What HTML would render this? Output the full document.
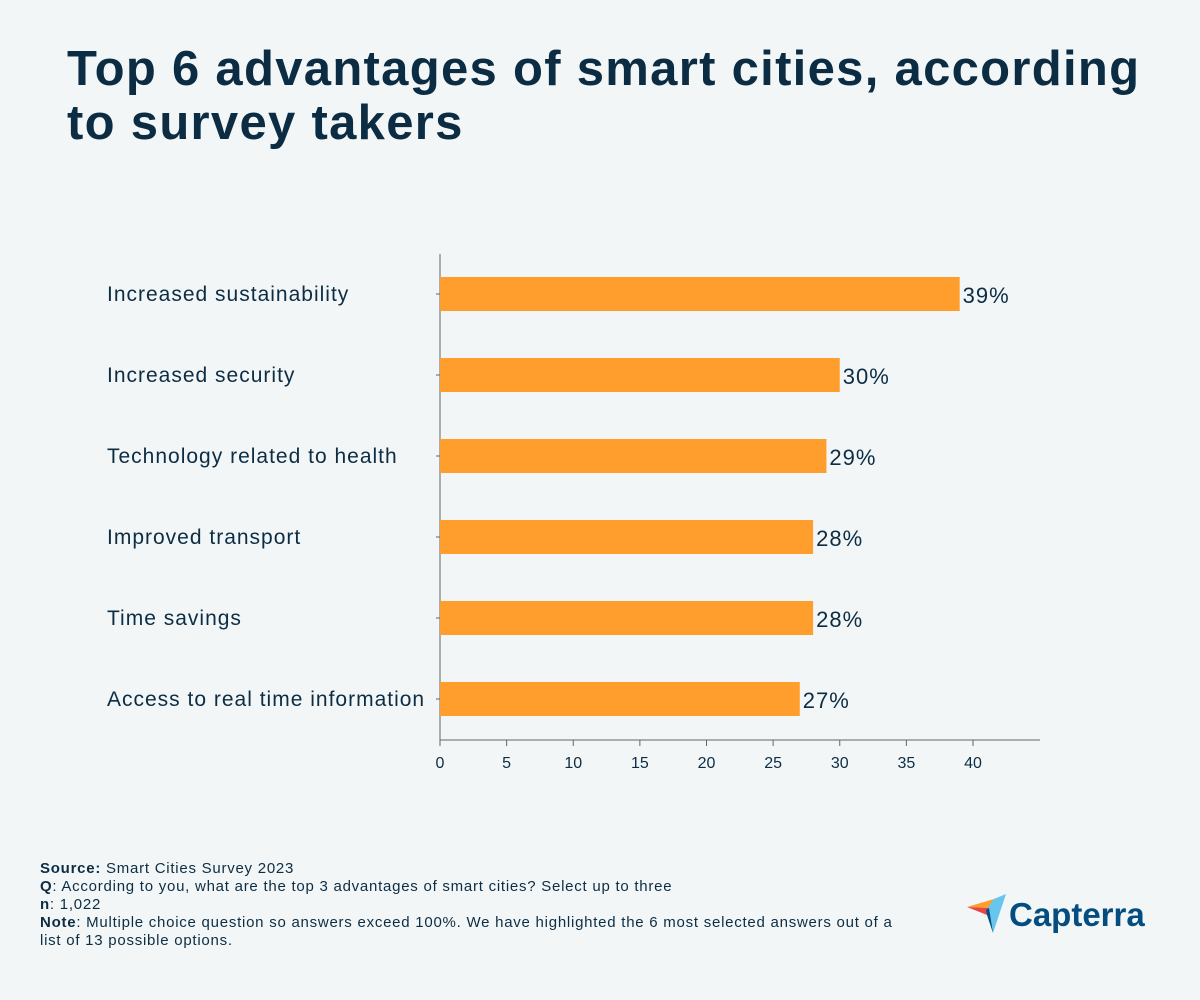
<!DOCTYPE html>
<html><head><meta charset="utf-8"><style>
body{margin:0;background:#f2f6f7;}
#root{position:relative;width:1200px;height:1000px;background:#f2f6f7;font-family:"Liberation Sans",sans-serif;color:#0d2d44;overflow:hidden}
h1{position:absolute;left:67px;top:42px;margin:0;font-size:49px;line-height:54px;font-weight:bold;color:#0b2c42;letter-spacing:1.3px}
.foot{position:absolute;left:40px;top:860px;font-size:15px;line-height:18px;color:#0d2d44;letter-spacing:0.75px}
</style></head><body>
<div id="root">
<h1>Top 6 advantages of smart cities, according<br>to survey takers</h1>
<svg id="chart" width="1200" height="1000" style="position:absolute;left:0;top:0"></svg>
<div class="foot">
<div><b>Source:</b> Smart Cities Survey 2023</div>
<div><b>Q</b>: According to you, what are the top 3 advantages of smart cities? Select up to three</div>
<div><b>n</b>: 1,022</div>
<div><b>Note</b>: Multiple choice question so answers exceed 100%. We have highlighted the 6 most selected answers out of a<br>list of 13 possible options.</div>
</div>
<svg width="200" height="70" style="position:absolute;left:960px;top:880px">
<polygon points="7,27 34,19 29,28" fill="#ff9d28"/>
<polygon points="34,19 46,14 33,53 26,30" fill="#68c5ed"/>
<polygon points="7,27 29,28 27,35" fill="#e54747"/>
<polygon points="26,30 29,28 33,53 27,35" fill="#044d80"/>
<text x="49" y="46" font-family="Liberation Sans, sans-serif" font-size="33" font-weight="bold" fill="#044d80">Capterra</text>
</svg>
</div>
<script>
const categories=["Increased sustainability","Increased security","Technology related to health","Improved transport","Time savings","Access to real time information"];
const values=[39,30,29,28,28,27];
const valueLabels=["39%","30%","29%","28%","28%","27%"];
const ticks=[0,5,10,15,20,25,30,35,40];
const NS="http://www.w3.org/2000/svg";
const svg=document.getElementById('chart');
const x0=440,pxPer=533/40,y0=294,step=81,bh=34;
const xs=v=>x0+v*pxPer, ys=i=>y0+i*step;
function mk(t,a){const e=document.createElementNS(NS,t);for(const k in a)e.setAttribute(k,a[k]);svg.appendChild(e);return e;}
let ax=mk('line',{x1:x0,y1:254,x2:x0,y2:740,stroke:'#666','stroke-width':1});


let bx=mk('line',{x1:x0,y1:740,x2:1040,y2:740,stroke:'#666','stroke-width':1});


ticks.forEach(t=>{
 const l=mk('line',{x1:xs(t),y1:740,x2:xs(t),y2:746,stroke:'#666'});
 
 
 const tx=mk('text',{x:xs(t),y:768,'text-anchor':'middle','font-size':16,fill:'#0d2d44'});
 tx.textContent=t;
 
 
});
categories.forEach((c,i)=>{
 const y=ys(i);
 const tk=mk('line',{x1:436,y1:y,x2:440,y2:y,stroke:'#666'});
 
 
 const r=mk('rect',{x:x0,y:y-bh/2,width:xs(values[i])-x0,height:bh,fill:'#ff9e2c'});
 
 
 const cl=mk('text',{x:107,y:y+7,'font-size':21,fill:'#0d2d44','letter-spacing':1});
 cl.textContent=c;
 
 
 const vl=mk('text',{x:xs(values[i])+3,y:y+9,'font-size':22,fill:'#0d2d44','letter-spacing':1});
 vl.textContent=valueLabels[i];
 
 
});
</script>
</body></html>
